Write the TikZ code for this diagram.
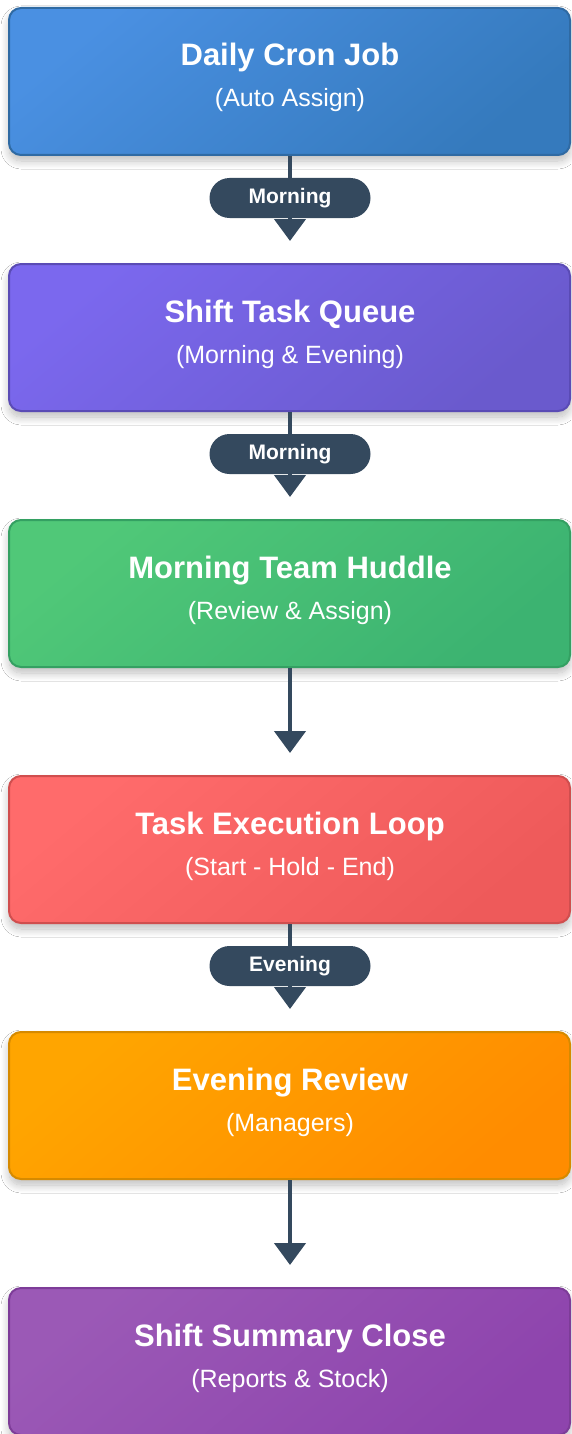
\documentclass[tikz,border=0pt]{standalone}
\usepackage{fontspec}
\setmainfont{Liberation Sans}
\usetikzlibrary{shadows.blur,arrows.meta,calc}
\definecolor{bluea}{HTML}{4A90E2}\definecolor{blueb}{HTML}{357ABD}\definecolor{blued}{HTML}{2F6AA3}
\definecolor{purpa}{HTML}{7B68EE}\definecolor{purpb}{HTML}{6A5ACD}\definecolor{purpd}{HTML}{5A4BB5}
\definecolor{greena}{HTML}{50C878}\definecolor{greenb}{HTML}{3CB371}\definecolor{greend}{HTML}{34A062}
\definecolor{reda}{HTML}{FF6B6B}\definecolor{redb}{HTML}{EE5A5A}\definecolor{redd}{HTML}{D04E4E}
\definecolor{orana}{HTML}{FFA500}\definecolor{oranb}{HTML}{FF8C00}\definecolor{orand}{HTML}{D68A00}
\definecolor{viola}{HTML}{9B59B6}\definecolor{violb}{HTML}{8E44AD}\definecolor{vold}{HTML}{7D3C98}
\definecolor{darkc}{HTML}{34495E}
\begin{document}
\begin{tikzpicture}[x=1pt,y=-1pt,
  box/.style 2 args={rectangle, rounded corners=12pt, minimum width=561pt, minimum height=147pt,
    inner sep=0pt, line width=2pt, draw=#2, top color=#1!90!white, bottom color=#1, shading angle=40,
    blur shadow={shadow xshift=0pt, shadow yshift=-6pt, shadow blur radius=8pt, shadow blur steps=12, shadow opacity=26}},
  ttl/.style={anchor=base, text=white, font=\bfseries\fontsize{31}{36}\selectfont, inner sep=0pt},
  sub/.style={anchor=base, text=white, font=\fontsize{25}{30}\selectfont, inner sep=0pt},
  flow/.style={draw=darkc, line width=4.5pt, -{Triangle[width=31pt,length=22pt]}, shorten >=22pt},
  pill/.style={fill=darkc, rounded corners=20pt, minimum width=161pt, minimum height=40pt,
    text=white, font=\bfseries\fontsize{21}{24}\selectfont, inner sep=0pt}
]
\useasboundingbox[fill=white] (0,0) rectangle (571,1434);

\node[box={bluea}{blued},   top color=bluea,  bottom color=blueb, shading angle=40] (b1) at (289.5,81.5)  {};
\node[box={purpa}{purpd},   top color=purpa,  bottom color=purpb, shading angle=40] (b2) at (289.5,337.5) {};
\node[box={greena}{greend}, top color=greena, bottom color=greenb, shading angle=40] (b3) at (289.5,593.5) {};
\node[box={reda}{redd},     top color=reda,   bottom color=redb, shading angle=40] (b4) at (289.5,849.5) {};
\node[box={orana}{orand},   top color=orana,  bottom color=oranb, shading angle=40] (b5) at (289.5,1105.5) {};
\node[box={viola}{vold},    top color=viola,  bottom color=violb, shading angle=40] (b6) at (289.5,1361.5) {};

\node[ttl] (t1) at ($(b1.north)+(0.5,59)$) {Daily Cron Job};
\node[sub] (s1) at ($(b1.north)+(0.5,100)$) {(Auto Assign)};
\node[ttl] (t2) at ($(b2.north)+(0.5,59)$) {Shift Task Queue};
\node[sub] (s2) at ($(b2.north)+(0.5,100)$) {(Morning \& Evening)};
\node[ttl] (t3) at ($(b3.north)+(0.5,59)$) {Morning Team Huddle};
\node[sub] (s3) at ($(b3.north)+(0.5,100)$) {(Review \& Assign)};
\node[ttl] (t4) at ($(b4.north)+(0.5,59)$) {Task Execution Loop};
\node[sub] (s4) at ($(b4.north)+(0.5,100)$) {(Start - Hold - End)};
\node[ttl] (t5) at ($(b5.north)+(0.5,59)$) {Evening Review};
\node[sub] (s5) at ($(b5.north)+(0.5,100)$) {(Managers)};
\node[ttl] (t6) at ($(b6.north)+(0.5,59)$) {Shift Summary Close};
\node[sub] (s6) at ($(b6.north)+(0.5,100)$) {(Reports \& Stock)};

\draw[flow] ($(b1.south)+(0.5,0)$) -- ($(b2.north)+(0.5,0)$);
\draw[flow] ($(b2.south)+(0.5,0)$) -- ($(b3.north)+(0.5,0)$);
\draw[flow] ($(b3.south)+(0.5,0)$) -- ($(b4.north)+(0.5,0)$);
\draw[flow] ($(b4.south)+(0.5,0)$) -- ($(b5.north)+(0.5,0)$);
\draw[flow] ($(b5.south)+(0.5,0)$) -- ($(b6.north)+(0.5,0)$);

\node[pill] (p1) at ($(b1.south)+(0.5,42)$) {Morning};
\node[pill] (p2) at ($(b2.south)+(0.5,42)$) {Morning};
\node[pill] (p4) at ($(b4.south)+(0.5,42)$) {Evening};
\end{tikzpicture}
\end{document}
